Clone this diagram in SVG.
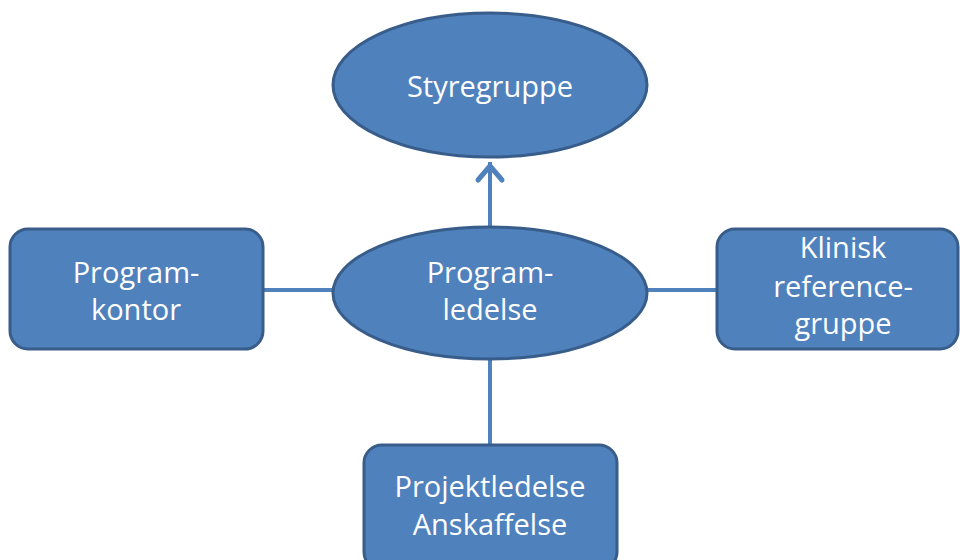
<svg xmlns="http://www.w3.org/2000/svg" width="960" height="560" viewBox="0 0 960 560">
  <style>
    .shape { fill: #4F81BD; stroke: #385D8A; stroke-width: 3; }
    .label { fill: #FFFFFF; font-family: "Open Sans", "Liberation Sans", sans-serif; font-size: 29px; text-anchor: middle; }
    .link { stroke: #4F81BD; stroke-width: 4; fill: none; }
    .head { stroke: #4F81BD; stroke-width: 5; fill: none; stroke-linecap: round; stroke-linejoin: round; }
  </style>
  <rect width="960" height="560" fill="#FFFFFF"/>

  <g id="connectors">
    <line class="link" x1="490" y1="228" x2="490" y2="162"/>
    <path class="head" d="M478 180 L490 166 L502 180"/>
    <line class="link" x1="263" y1="290" x2="334" y2="290"/>
    <line class="link" x1="646" y1="290" x2="717" y2="290"/>
    <line class="link" x1="490" y1="358" x2="490" y2="445"/>
  </g>

  <g id="styregruppe">
    <ellipse class="shape" cx="490" cy="85" rx="157" ry="72"/>
    <text class="label" x="490" y="97">Styregruppe</text>
  </g>

  <g id="programledelse">
    <ellipse class="shape" cx="490" cy="293" rx="157" ry="66"/>
    <text class="label" x="490" y="283">Program-</text>
    <text class="label" x="490" y="320">ledelse</text>
  </g>

  <g id="programkontor">
    <rect class="shape" x="10" y="229" width="253" height="120" rx="18"/>
    <text class="label" x="136" y="283">Program-</text>
    <text class="label" x="136" y="320">kontor</text>
  </g>

  <g id="klinisk-referencegruppe">
    <rect class="shape" x="717" y="229" width="241" height="120" rx="18"/>
    <text class="label" x="843" y="258">Klinisk</text>
    <text class="label" x="843" y="297">reference-</text>
    <text class="label" x="843" y="334">gruppe</text>
  </g>

  <g id="projektledelse-anskaffelse">
    <rect class="shape" x="364" y="445" width="253" height="125" rx="18"/>
    <text class="label" x="490" y="497">Projektledelse</text>
    <text class="label" x="490" y="535">Anskaffelse</text>
  </g>
</svg>
